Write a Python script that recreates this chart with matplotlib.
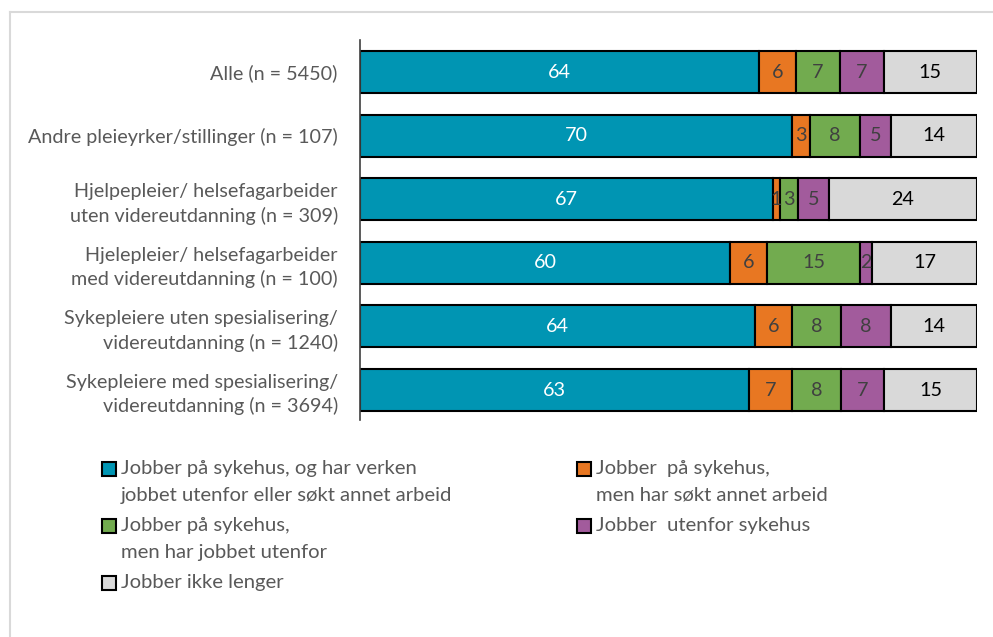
import numpy as np
import matplotlib.pyplot as plt
from matplotlib.patches import Rectangle
from matplotlib.lines import Line2D

plt.rcParams['font.family'] = ['Lato', 'DejaVu Sans']

groups = ["Alle (n = 5450)",
          "Andre pleieyrker/stillinger (n = 107)",
          "Hjelpepleier/ helsefagarbeider\nuten videreutdanning (n = 309)",
          "Hjelepleier/ helsefagarbeider\nmed videreutdanning (n = 100)",
          "Sykepleiere uten spesialisering/\nvidereutdanning (n = 1240)",
          "Sykepleiere med spesialisering/\nvidereutdanning (n = 3694)"]

ikke_sokt = [64, 70, 67, 60, 64, 63]
sokt = [6, 3, 1, 6, 6, 7]
jobbet_utenfor = [7, 8, 3, 15, 8, 8]
utenfor = [7, 5, 5, 2, 8, 7]
sluttet = [15, 14, 24, 17, 14, 15]

series = [ikke_sokt, sokt, jobbet_utenfor, utenfor, sluttet]
legend_labels = ["Jobber på sykehus, og har verken\njobbet utenfor eller søkt annet arbeid",
                 "Jobber  på sykehus,\nmen har søkt annet arbeid",
                 "Jobber på sykehus,\nmen har jobbet utenfor",
                 "Jobber  utenfor sykehus",
                 "Jobber ikke lenger"]
colors = ["#0095b3", "#e87722", "#72ab4f", "#a25b9c", "#d9d9d9"]
text_colors = ["white", "#404040", "#404040", "#404040", "black"]

W, H = 993, 637
FS = 14.2

data = np.array(series, dtype=float)
pct = data / data.sum(axis=0) * 100  # 100 % stacked

fig = plt.figure(figsize=(W / 100, H / 100), dpi=100)
ax = fig.add_axes([360 / W, 1 - 420 / H, 617 / W, 380 / H])

y = np.arange(len(groups))
left = np.zeros(len(groups))
for i in range(len(series)):
    ax.barh(y, pct[i], left=left, height=0.66, color=colors[i],
            edgecolor="black", linewidth=1.5)
    for j in range(len(groups)):
        ax.text(left[j] + pct[i][j] / 2, y[j], str(series[i][j]),
                ha="center", va="center", fontsize=FS, color=text_colors[i])
    left += pct[i]

ax.set_xlim(0, 100)
ax.set_ylim(5.47, -0.503)
ax.set_yticks(y)
ax.set_yticklabels(groups, fontsize=FS, color="#595959", linespacing=1.42)
ax.tick_params(axis="y", length=0, pad=16)
ax.set_xticks([])
for s in ["top", "right", "bottom"]:
    ax.spines[s].set_visible(False)
ax.spines["left"].set_color("#404040")
ax.spines["left"].set_linewidth(1.2)


def fx(px):
    return px / W


def fy(px):
    return 1 - px / H


# legend, filled row by row in two columns
col_x = [102, 577]
row_y = [469, 526, 583]
for k, (lab, c) in enumerate(zip(legend_labels, colors)):
    cx = col_x[k % 2]
    cy = row_y[k // 2]
    fig.add_artist(Rectangle((fx(cx), fy(cy + 7)), fx(14), 14 / H,
                             transform=fig.transFigure, facecolor=c,
                             edgecolor="black", linewidth=1.5))
    fig.text(fx(cx + 19), fy(cy - 9), lab, ha="left", va="top",
             fontsize=14.6, color="#595959", linespacing=1.7,
             transform=fig.transFigure)

# thin frame around the chart area
fig.add_artist(Line2D([fx(9.5), fx(9.5)], [0, fy(12)],
                      transform=fig.transFigure, color="#d9d9d9", lw=1.5))
fig.add_artist(Line2D([fx(9.5), 1], [fy(12), fy(12)],
                      transform=fig.transFigure, color="#d9d9d9", lw=1.5))

fig.savefig("out.png", dpi=100)
